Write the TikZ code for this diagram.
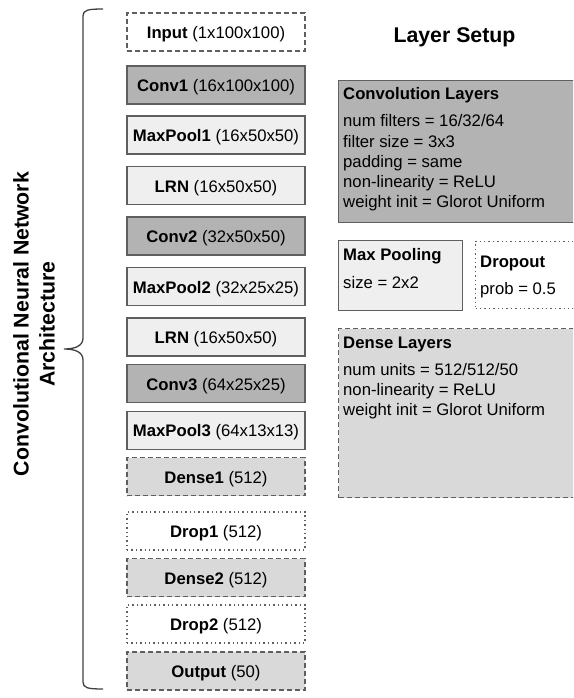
\documentclass[tikz,border=0pt]{standalone}
\usepackage{fontspec}
\setmainfont{Liberation Sans}
\definecolor{convfill}{HTML}{B3B3B3}
\definecolor{lightfill}{HTML}{EFEFEF}
\definecolor{densefill}{HTML}{D9D9D9}
\definecolor{bordercol}{HTML}{5F5F5F}
\definecolor{bracecol}{HTML}{404040}
\begin{document}
\begin{tikzpicture}[x=1pt,y=-1pt,
  box/.style={draw=bordercol, line width=1.1pt, minimum width=178pt, minimum height=38pt,
    inner sep=0pt, text height=14pt, text depth=1pt, font=\fontsize{16.7}{20}\selectfont},
  dashline/.style={dash pattern=on 5pt off 3pt},
  dotline/.style={dash pattern=on 1.4pt off 3pt},
  convbox/.style={box, fill=convfill},
  lightbox/.style={box, fill=lightfill},
  densebox/.style={box, fill=densefill, dashline},
  dropbox/.style={box, fill=white, dotline},
  inbox/.style={box, fill=white, dashline},
  panel/.style={draw=bordercol, line width=1.1pt, inner sep=0pt, anchor=north west},
  rtext/.style={anchor=base west, inner sep=0pt, font=\fontsize{16.7}{20}\selectfont},
  bigtext/.style={anchor=base, inner sep=0pt, font=\fontsize{21.3}{26}\selectfont\bfseries},
  brace/.style={draw=bracecol, line width=1.3pt}
]
\useasboundingbox (0,0) rectangle (573,698);
\clip (0,0) rectangle (573,698);

% left column
\node[inbox]    (input)    at (216,32)    {\textbf{Input} (1x100x100)};
\node[convbox]  (conv1)    at (216,85)    {\textbf{Conv1} (16x100x100)};
\node[lightbox] (maxpool1) at (216,135)   {\textbf{MaxPool1} (16x50x50)};
\node[lightbox] (lrn1)     at (216,185.7) {\textbf{LRN} (16x50x50)};
\node[convbox]  (conv2)    at (216,236)   {\textbf{Conv2} (32x50x50)};
\node[lightbox] (maxpool2) at (216,286.5) {\textbf{MaxPool2} (32x25x25)};
\node[lightbox] (lrn2)     at (216,337)   {\textbf{LRN} (16x50x50)};
\node[convbox]  (conv3)    at (216,383.5) {\textbf{Conv3} (64x25x25)};
\node[lightbox] (maxpool3) at (216,430.3) {\textbf{MaxPool3} (64x13x13)};
\node[densebox] (dense1)   at (216,476.7) {\textbf{Dense1} (512)};
\node[dropbox]  (drop1)    at (216,531)   {\textbf{Drop1} (512)};
\node[densebox] (dense2)   at (216,577.5) {\textbf{Dense2} (512)};
\node[dropbox]  (drop2)    at (216,624)   {\textbf{Drop2} (512)};
\node[densebox] (output)   at (216,671)   {\textbf{Output} (50)};

% brace
\draw[brace] (103,9) .. controls (88,9) and (83,10) .. (83,16) -- (83,338)
  .. controls (83,346) and (75,349) .. (64,349)
  .. controls (75,349) and (83,352) .. (83,360) -- (83,682)
  .. controls (83,688) and (88,689) .. (103,689);

% vertical title
\node[bigtext, rotate=90] (archtitle1) at (28.5,324) {Convolutional Neural Network};
\node[bigtext, rotate=90] (archtitle2) at (54.5,324) {Architecture};

% right side
\node[bigtext] (setup) at (454.5,43) {Layer Setup};

\node[panel, fill=convfill, minimum width=245pt, minimum height=142pt] (convpanel) at (338,80) {};
\node[rtext] (ct) at (343,100) {\textbf{Convolution Layers}};
\node[rtext] (c1) at (343,127) {num filters = 16/32/64};
\node[rtext] (c2) at (343,147) {filter size = 3x3};
\node[rtext] (c3) at (343,167) {padding = same};
\node[rtext] (c4) at (343,187) {non-linearity = ReLU};
\node[rtext] (c5) at (343,207) {weight init = Glorot Uniform};

\node[panel, fill=lightfill, minimum width=124pt, minimum height=70pt] (poolpanel) at (338,240) {};
\node[rtext] (pt) at (343,260) {\textbf{Max Pooling}};
\node[rtext] (p1) at (343,288) {size = 2x2};

\node[panel, fill=white, dotline, minimum width=110pt, minimum height=67pt] (droppanel) at (475,240.5) {};
\node[rtext] (dt) at (480,267) {\textbf{Dropout}};
\node[rtext] (d1) at (480,294) {prob = 0.5};

\node[panel, fill=densefill, dashline, minimum width=245pt, minimum height=169pt] (densepanel) at (338,328) {};
\node[rtext] (nt) at (343,348) {\textbf{Dense Layers}};
\node[rtext] (n1) at (343,375) {num units = 512/512/50};
\node[rtext] (n2) at (343,395) {non-linearity = ReLU};
\node[rtext] (n3) at (343,415) {weight init = Glorot Uniform};
\end{tikzpicture}
\end{document}
